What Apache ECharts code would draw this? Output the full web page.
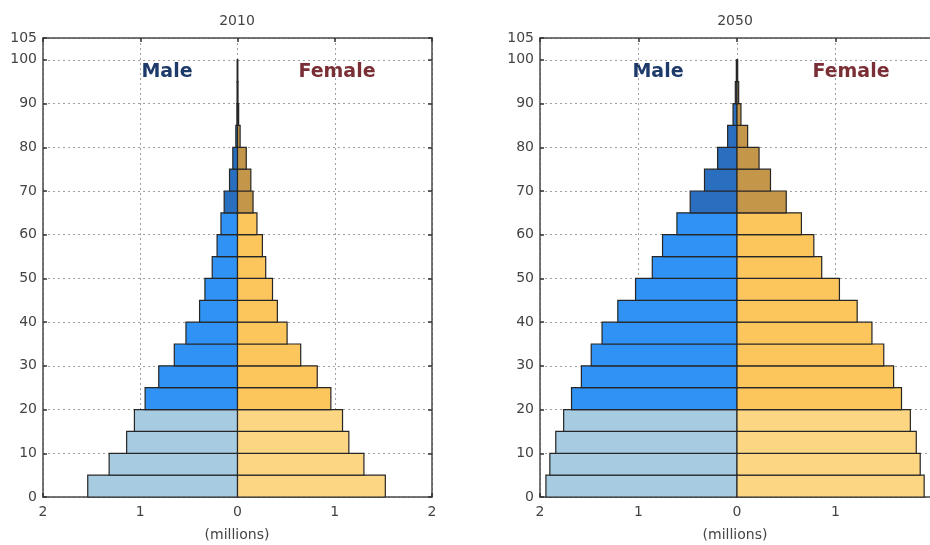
<!DOCTYPE html>
<html>
<head>
<meta charset="utf-8">
<script src="https://cdn.jsdelivr.net/npm/echarts@6/dist/echarts.min.js"></script>
<style>
html,body{margin:0;padding:0;background:#fff;}
#chart{width:930px;height:545px;}
</style>
</head>
<body>
<div id="chart"></div>
<script>
// Age bin starts (5-year bins)
var ageStarts = [0,5,10,15,20,25,30,35,40,45,50,55,60,65,70,75,80,85,90,95];
var binSize = 5;
var years = ['2010','2050'];
var yTicks = [0,10,20,30,40,50,60,70,80,90,100,105];
var xTickLabels = ['2','1','0','1','2'];

// Population (millions) per age bin
var male2010   = [1.54,1.32,1.14,1.06,0.95,0.81,0.65,0.53,0.39,0.335,0.26,0.21,0.17,0.137,0.082,0.048,0.017,0.006,0.004,0.003];
var female2010 = [1.52,1.30,1.145,1.08,0.96,0.82,0.65,0.51,0.41,0.36,0.29,0.256,0.20,0.16,0.137,0.09,0.027,0.012,0.005,0.003];
var male2050   = [1.94,1.90,1.84,1.76,1.68,1.58,1.48,1.37,1.21,1.03,0.86,0.756,0.61,0.475,0.33,0.197,0.095,0.04,0.017,0.007];
var female2050 = [1.90,1.86,1.82,1.76,1.67,1.59,1.49,1.37,1.22,1.04,0.86,0.78,0.654,0.50,0.34,0.224,0.108,0.04,0.017,0.007];

var maleColors = ['#a7cbe0','#2f92f4','#2a6fbf'];
var femaleColors = ['#fdd684','#fdc65c','#c4964a'];
function band(age){ return age < 20 ? 0 : (age < 65 ? 1 : 2); }

function buildData(vals, sign){
  return vals.map(function(v,i){ return [sign*v, ageStarts[i], ageStarts[i]+binSize]; });
}

function makeRender(colors){
  return function(params, api){
    var v = api.value(0), y0 = api.value(1), y1 = api.value(2);
    var p0 = api.coord([v, y0]);
    var p1 = api.coord([0, y1]);
    var x = Math.min(p0[0], p1[0]);
    var w = Math.abs(p1[0] - p0[0]);
    return {
      type:'rect',
      shape:{x:x, y:p1[1], width:w, height:p0[1]-p1[1]},
      style:{fill: colors[band(y0)], stroke:'#262626', lineWidth:1.2}
    };
  };
}

var font = 'DejaVu Sans';
var grids = [
  {left:43, top:38, width:389, height:459, outerBoundsMode:'none', containLabel:false},
  {left:540, top:38, width:394, height:459, outerBoundsMode:'none', containLabel:false}
];

var axisLineStyle = {color:'#4a4a4a', width:1.5};
var tickStyle = {color:'#333', width:1.5};
var splitStyle = {color:'#a0a0a0', type:[2,3], width:1};

var xAxes = [], yAxes = [], series = [];
[0,1].forEach(function(g){
  xAxes.push({
    type:'value', gridIndex:g, position:'bottom', min:-2, max:2, interval:1,
    axisLine:{show:true, onZero:false, lineStyle:axisLineStyle},
    axisTick:{show:true, inside:true, length:4, lineStyle:tickStyle},
    axisLabel:{color:'#444', fontFamily:font, fontSize:14, margin:8,
      formatter:function(v){ return xTickLabels[Math.round(v)+2]; }},
    splitLine:{show:true, lineStyle:splitStyle}
  });
  xAxes.push({
    type:'value', gridIndex:g, position:'top', min:-2, max:2, interval:1,
    axisLine:{show:true, onZero:false, lineStyle:axisLineStyle},
    axisTick:{show:true, inside:true, length:4, lineStyle:tickStyle},
    axisLabel:{show:false}, splitLine:{show:false}
  });
  yAxes.push({
    type:'value', gridIndex:g, position:'left', min:0, max:105, interval:10,
    axisLine:{show:true, onZero:false, lineStyle:axisLineStyle},
    axisTick:{show:true, inside:true, length:4, lineStyle:tickStyle},
    axisLabel:{color:'#444', fontFamily:font, fontSize:14, margin:6},
    splitLine:{show:true, lineStyle:splitStyle}
  });
  yAxes.push({
    type:'value', gridIndex:g, position:'right', min:0, max:105, interval:10,
    axisLine:{show:true, onZero:false, lineStyle:axisLineStyle},
    axisTick:{show:true, inside:true, length:4, lineStyle:tickStyle},
    axisLabel:{show:false}, splitLine:{show:false}
  });
});

var datasets = [[male2010,female2010],[male2050,female2050]];
[0,1].forEach(function(g){
  series.push({type:'custom', xAxisIndex:g*2, yAxisIndex:g*2, renderItem:makeRender(maleColors),
    data: buildData(datasets[g][0], -1), encode:{x:0, y:[1,2]}, clip:false, silent:true});
  series.push({type:'custom', xAxisIndex:g*2, yAxisIndex:g*2, renderItem:makeRender(femaleColors),
    data: buildData(datasets[g][1], 1), encode:{x:0, y:[1,2]}, clip:false, silent:true});
});

function txt(x,y,s,opt){
  return {type:'text', x:x, y:y, style:Object.assign({text:s, fontFamily:font, fontSize:13, fill:'#333', align:'center', verticalAlign:'middle'}, opt||{})};
}

var chart = echarts.init(document.getElementById('chart'), null, {renderer:'canvas'});
chart.setOption({
  animation:false,
  backgroundColor:'#fff',
  grid:grids,
  xAxis:xAxes,
  yAxis:yAxes,
  series:series,
  graphic:[
    txt(237,21,years[0],{fontSize:14, fill:'#444'}),
    txt(735,21,years[1],{fontSize:14, fill:'#444'}),
    txt(167,72,'Male',{fontSize:19, fontWeight:'bold', fill:'#1d3a6b'}),
    txt(337,72,'Female',{fontSize:19, fontWeight:'bold', fill:'#7a2e35'}),
    txt(658,72,'Male',{fontSize:19, fontWeight:'bold', fill:'#1d3a6b'}),
    txt(851,72,'Female',{fontSize:19, fontWeight:'bold', fill:'#7a2e35'}),
    txt(237,535,'(millions)',{fontSize:14, fill:'#444'}),
    txt(735,535,'(millions)',{fontSize:14, fill:'#444'})
  ]
});
</script>
</body>
</html>
